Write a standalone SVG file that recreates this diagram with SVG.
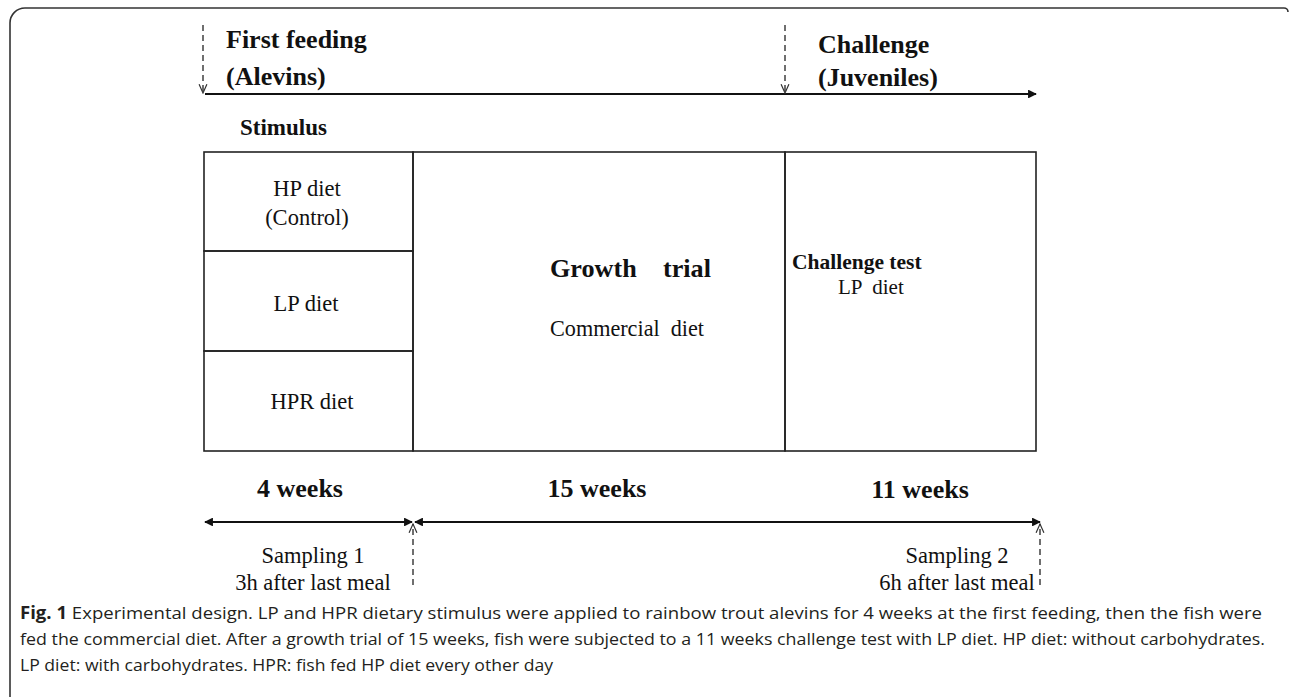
<svg xmlns="http://www.w3.org/2000/svg" width="1290" height="697" viewBox="0 0 1290 697">
<defs>
<style>
.b{font-family:"Liberation Serif","Times New Roman",serif;font-weight:bold;font-size:26px;fill:#111}
.r{font-family:"Liberation Serif","Times New Roman",serif;font-size:22.5px;fill:#111}
.cap{font-family:"Open Sans","Noto Sans",sans-serif;font-size:17px;fill:#231f20}
.box{fill:none;stroke:#222;stroke-width:1.6}
.solid{stroke:#111;stroke-width:2.2;fill:none}
.dash{stroke:#333;stroke-width:1.4;stroke-dasharray:6,4;fill:none}
</style>
<marker id="fh" viewBox="0 0 10 10" refX="9" refY="5" markerWidth="4" markerHeight="4" orient="auto-start-reverse" markerUnits="strokeWidth">
<path d="M0,0 L10,5 L0,10 Z" fill="#111"/>
</marker>
<marker id="oh" viewBox="0 0 10 10" refX="9" refY="5" markerWidth="7" markerHeight="7" orient="auto" markerUnits="strokeWidth">
<path d="M0,1 L9,5 L0,9" fill="none" stroke="#333" stroke-width="1.2"/>
</marker>
</defs>
<rect width="1290" height="697" fill="#fff"/>
<path d="M10,697 V23 A15,15 0 0 1 25,8 H1284 A4,4 0 0 1 1288,12" fill="none" stroke="#333" stroke-width="1.6"/>

<g id="connectors">
<line class="solid" x1="205" y1="94" x2="1036" y2="94" marker-end="url(#fh)"/>
<line class="dash" x1="203" y1="25" x2="203" y2="93" marker-end="url(#oh)"/>
<line class="dash" x1="785" y1="25" x2="785" y2="93" marker-end="url(#oh)"/>
<line class="solid" x1="205" y1="522" x2="412" y2="522" marker-start="url(#fh)" marker-end="url(#fh)"/>
<line class="solid" x1="415" y1="522" x2="1040" y2="522" marker-start="url(#fh)" marker-end="url(#fh)"/>
<line class="dash" x1="413" y1="585" x2="413" y2="524" marker-end="url(#oh)"/>
<line class="dash" x1="1040" y1="585" x2="1040" y2="524" marker-end="url(#oh)"/>
</g>

<g id="timeline-labels">
<text class="b" x="226" y="48">First feeding</text>
<text class="b" x="226" y="85">(Alevins)</text>
<text class="b" x="818" y="53">Challenge</text>
<text class="b" x="818" y="86">(Juveniles)</text>
<text class="b" x="240" y="135" style="font-size:23px">Stimulus</text>
</g>

<g id="stimulus-hp">
<rect class="box" x="204" y="152" width="209" height="99"/>
<text class="r" x="307" y="196" text-anchor="middle">HP diet</text>
<text class="r" x="307" y="225" text-anchor="middle">(Control)</text>
</g>
<g id="stimulus-lp">
<rect class="box" x="204" y="251" width="209" height="100"/>
<text class="r" x="306" y="311" text-anchor="middle">LP diet</text>
</g>
<g id="stimulus-hpr">
<rect class="box" x="204" y="351" width="209" height="100"/>
<text class="r" x="312" y="409" text-anchor="middle">HPR diet</text>
</g>
<g id="growth-trial">
<rect class="box" x="413" y="152" width="372" height="299"/>
<text class="b" x="550" y="277" textLength="161" lengthAdjust="spacingAndGlyphs" xml:space="preserve">Growth    trial</text>
<text class="r" x="550" y="336" textLength="154" lengthAdjust="spacingAndGlyphs" xml:space="preserve">Commercial  diet</text>
</g>
<g id="challenge-test">
<rect class="box" x="785" y="152" width="251" height="299"/>
<text class="b" x="792" y="269" style="font-size:21.5px">Challenge test</text>
<text class="r" x="838" y="294" style="font-size:21px" xml:space="preserve">LP  diet</text>
</g>

<g id="durations">
<text class="b" x="300" y="497" text-anchor="middle">4 weeks</text>
<text class="b" x="597" y="497" text-anchor="middle">15 weeks</text>
<text class="b" x="920" y="498" text-anchor="middle">11 weeks</text>
</g>

<g id="sampling">
<text class="r" x="313" y="563" text-anchor="middle">Sampling 1</text>
<text class="r" x="313" y="590" text-anchor="middle">3h after last meal</text>
<text class="r" x="957" y="563" text-anchor="middle">Sampling 2</text>
<text class="r" x="957" y="590" text-anchor="middle">6h after last meal</text>
</g>

<g id="caption">
<text class="cap" x="20" y="619" textLength="1242" lengthAdjust="spacingAndGlyphs"><tspan font-weight="bold">Fig. 1</tspan> Experimental design. LP and HPR dietary stimulus were applied to rainbow trout alevins for 4 weeks at the first feeding, then the fish were</text>
<text class="cap" x="20" y="645" textLength="1245" lengthAdjust="spacingAndGlyphs">fed the commercial diet. After a growth trial of 15 weeks, fish were subjected to a 11 weeks challenge test with LP diet. HP diet: without carbohydrates.</text>
<text class="cap" x="20" y="671" textLength="533" lengthAdjust="spacingAndGlyphs">LP diet: with carbohydrates. HPR: fish fed HP diet every other day</text>
</g>
</svg>
